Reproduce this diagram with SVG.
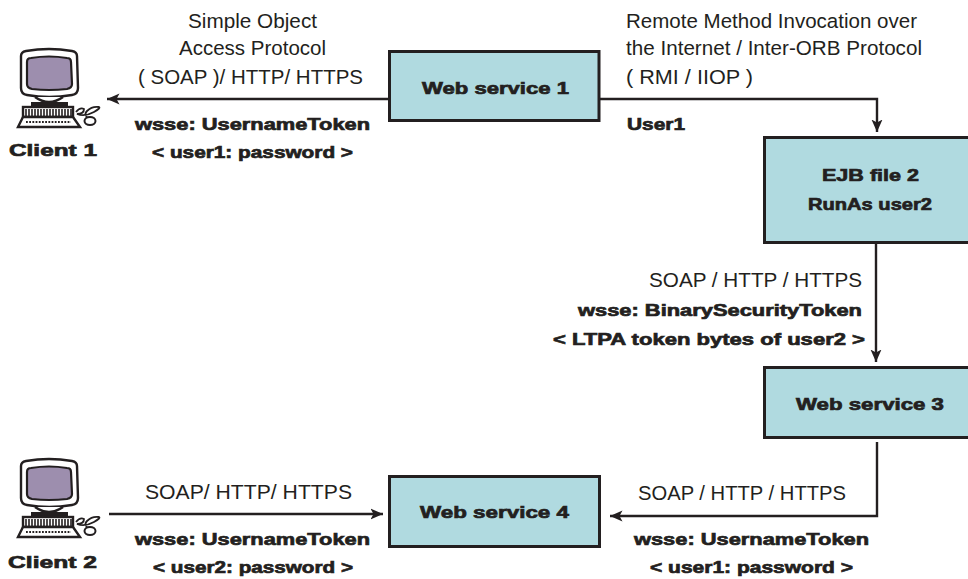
<svg xmlns="http://www.w3.org/2000/svg" width="968" height="579" viewBox="0 0 968 579">
<style>
text{font-family:"Liberation Sans",Arial,sans-serif;fill:#231f20}
.t{font-size:20.5px}
.b{font-size:17px;font-weight:bold;stroke:#231f20;stroke-width:.7px}
.box{fill:#b0dae0;stroke:#231f20;stroke-width:3}
.ln{fill:none;stroke:#231f20;stroke-width:2.4}
.w{fill:#fff;stroke:#231f20;stroke-width:2.4}
.s{fill:#9d8eae;stroke:#231f20;stroke-width:2.2}
</style>
<defs>
<marker id="a" markerUnits="userSpaceOnUse" markerWidth="14" markerHeight="13" refX="12.5" refY="6" orient="auto"><path d="M0 .5L12.5 6L0 11.5L3 6Z" fill="#231f20"/></marker>
<g id="pc">
<path class="w" d="M21 56Q21 52 26 51Q49 47 72 51Q77 52 77 56L78 88Q78 94 72 95Q49 99 27 95Q21 94 21 88Z"/>
<path class="s" d="M27 62Q27 58 31 58Q49 55 67 58Q71 58 71 62L72 84Q72 88 67 89Q49 91 32 89Q27 88 27 84Z"/>
<path class="w" d="M35 97Q49 107 63 97"/>
<rect x="31" y="102" width="37" height="5" fill="#231f20"/>
<rect class="w" x="23" y="107" width="50" height="10"/>
<path d="M26 109V116M29 109V116M32 109V116M35 109V116M38 109V116M41 109V116M44 109V116M47 109V116M50 109V116M53 109V116M56 109V116M59 109V116M62 109V116M65 109V116M68 109V116M71 109V116" stroke="#231f20" stroke-width="1.6"/>
<path class="w" d="M23 117H73L80 127H18Z"/>
<path d="M26 122H71" stroke="#231f20" stroke-width="1.8" stroke-dasharray="1.8 1.4"/>
<path d="M76 112Q80 107 84 109Q84 114 77 114Q85 117 94 112Q101 108 99 107Q92 106 87 111Q84 114 87 117" fill="none" stroke="#231f20" stroke-width="1.8"/>
<ellipse cx="90" cy="121" rx="5.500" ry="4" fill="#fff" stroke="#231f20" stroke-width="2"/>
</g>
</defs>
<g id="connectors">
<line class="ln" x1="388" y1="99" x2="107" y2="99" marker-end="url(#a)"/>
<path class="ln" d="M600 99H877V132" marker-end="url(#a)"/>
<line class="ln" x1="876" y1="244" x2="876" y2="362" marker-end="url(#a)"/>
<path class="ln" d="M877 442V516H610" marker-end="url(#a)"/>
<line class="ln" x1="109" y1="514" x2="383" y2="514" marker-end="url(#a)"/>
</g>
<g id="client1"><use href="#pc"/><text class="b" x="9" y="156" textLength="88" lengthAdjust="spacingAndGlyphs">Client 1</text></g>
<g id="client2"><use href="#pc" y="410"/><text class="b" x="8" y="568" textLength="89" lengthAdjust="spacingAndGlyphs">Client 2</text></g>
<g id="ws1"><rect class="box" x="389.500" y="51.500" width="209.500" height="69"/><text class="b" x="422" y="94" textLength="147" lengthAdjust="spacingAndGlyphs">Web service 1</text></g>
<g id="ejb2"><rect class="box" x="764.500" y="137.500" width="205" height="105"/><text class="b" x="822" y="181" textLength="97" lengthAdjust="spacingAndGlyphs">EJB file 2</text><text class="b" x="808" y="210" textLength="124" lengthAdjust="spacingAndGlyphs">RunAs user2</text></g>
<g id="ws3"><rect class="box" x="764.500" y="367.500" width="205" height="70"/><text class="b" x="796" y="410" textLength="148" lengthAdjust="spacingAndGlyphs">Web service 3</text></g>
<g id="ws4"><rect class="box" x="389.500" y="476.500" width="210" height="70"/><text class="b" x="420" y="518" textLength="149" lengthAdjust="spacingAndGlyphs">Web service 4</text></g>
<g id="labels">
<text class="t" x="188" y="28" textLength="129" lengthAdjust="spacingAndGlyphs">Simple Object</text>
<text class="t" x="179" y="55" textLength="147" lengthAdjust="spacingAndGlyphs">Access Protocol</text>
<text class="t" x="138" y="84" textLength="225" lengthAdjust="spacingAndGlyphs">( SOAP )/ HTTP/ HTTPS</text>
<text class="b" x="135" y="130" textLength="235" lengthAdjust="spacingAndGlyphs">wsse: UsernameToken</text>
<text class="b" x="152" y="158" textLength="201" lengthAdjust="spacingAndGlyphs">&lt; user1: password &gt;</text>
<text class="t" x="626" y="28" textLength="291" lengthAdjust="spacingAndGlyphs">Remote Method Invocation over</text>
<text class="t" x="626" y="55" textLength="296" lengthAdjust="spacingAndGlyphs">the Internet / Inter-ORB Protocol</text>
<text class="t" x="626" y="84" textLength="127" lengthAdjust="spacingAndGlyphs">( RMI / IIOP )</text>
<text class="b" x="627" y="130" textLength="58" lengthAdjust="spacingAndGlyphs">User1</text>
<text class="t" x="649" y="287" textLength="213" lengthAdjust="spacingAndGlyphs">SOAP / HTTP / HTTPS</text>
<text class="b" x="578" y="316" textLength="284" lengthAdjust="spacingAndGlyphs">wsse: BinarySecurityToken</text>
<text class="b" x="553" y="345" textLength="312" lengthAdjust="spacingAndGlyphs">&lt; LTPA token bytes of user2 &gt;</text>
<text class="t" x="145" y="499" textLength="207" lengthAdjust="spacingAndGlyphs">SOAP/ HTTP/ HTTPS</text>
<text class="b" x="135" y="545" textLength="235" lengthAdjust="spacingAndGlyphs">wsse: UsernameToken</text>
<text class="b" x="153" y="573" textLength="200" lengthAdjust="spacingAndGlyphs">&lt; user2: password &gt;</text>
<text class="t" x="638" y="500" textLength="208" lengthAdjust="spacingAndGlyphs">SOAP / HTTP / HTTPS</text>
<text class="b" x="634" y="545" textLength="235" lengthAdjust="spacingAndGlyphs">wsse: UsernameToken</text>
<text class="b" x="650" y="573" textLength="203" lengthAdjust="spacingAndGlyphs">&lt; user1: password &gt;</text>
</g>
</svg>
